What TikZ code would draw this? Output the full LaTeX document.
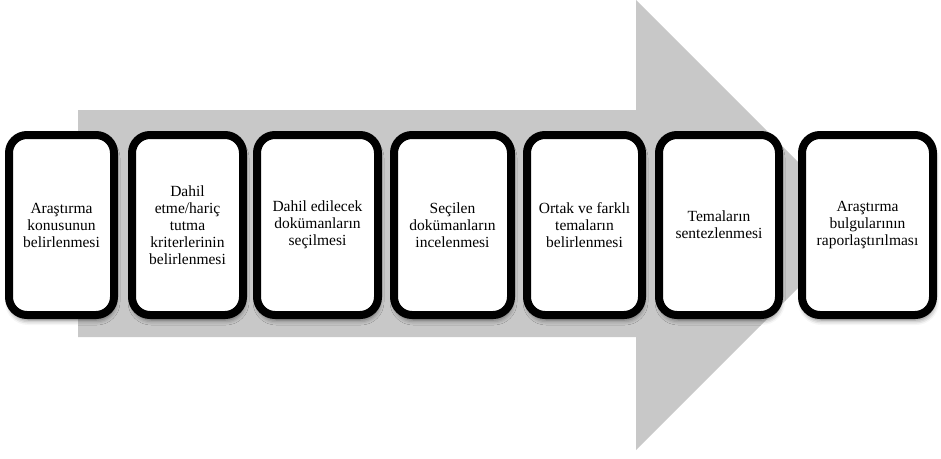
\documentclass[tikz,border=0pt]{standalone}
\usepackage{fontspec}
\setmainfont{Liberation Serif}
\usetikzlibrary{shadows.blur}
\definecolor{arrowgray}{RGB}{200,200,200}
\tikzset{
  stepbox/.style={draw=black, line width=8pt, fill=white, rounded corners=18pt,
    minimum height=180pt, align=center, inner sep=2pt,
    font=\fontsize{15.5}{17}\selectfont,
    blur shadow={shadow xshift=1pt, shadow yshift=-5pt, shadow blur radius=5pt, shadow opacity=55}},
  bigarrow/.style={fill=arrowgray, draw=none}
}
\begin{document}
\begin{tikzpicture}[x=1pt,y=-1pt]
\useasboundingbox (0,0) rectangle (941,458);
\fill[bigarrow] (78,110) -- (636,110) -- (636,0) -- (861,225) -- (636,450) -- (636,337) -- (78,337) -- cycle;
\node[stepbox, minimum width=105pt] (s1) at (61.5,225) {Araştırma\\konusunun\\belirlenmesi};
\node[stepbox, minimum width=111pt] (s2) at (187.5,225) {Dahil\\etme/hariç\\tutma\\kriterlerinin\\belirlenmesi};
\node[stepbox, minimum width=121pt] (s3) at (317.5,225) {Dahil edilecek\\dokümanların\\seçilmesi};
\node[stepbox, minimum width=117pt] (s4) at (452.5,225) {Seçilen\\dokümanların\\incelenmesi};
\node[stepbox, minimum width=115pt] (s5) at (584.5,225) {Ortak ve farklı\\temaların\\belirlenmesi};
\node[stepbox, minimum width=120pt] (s6) at (719,225) {Temaların\\sentezlenmesi};
\node[stepbox, minimum width=131pt] (s7) at (867.5,225) {Araştırma\\bulgularının\\raporlaştırılması};
\end{tikzpicture}
\end{document}
